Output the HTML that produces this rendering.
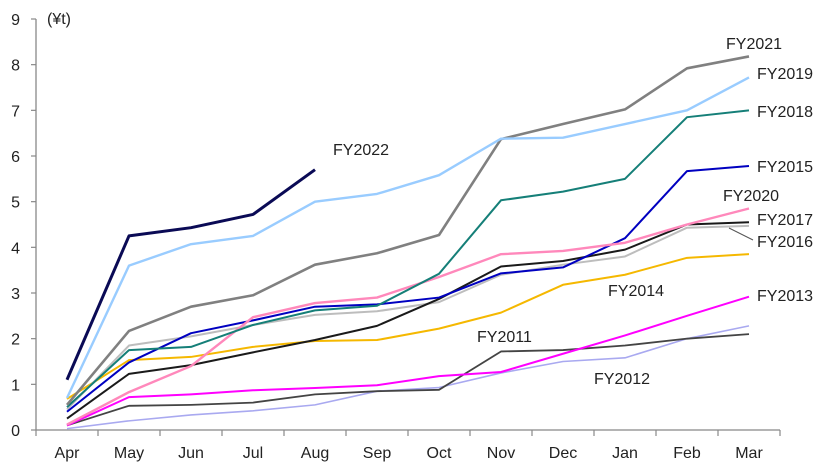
<!DOCTYPE html>
<html><head><meta charset="utf-8"><style>
html,body{margin:0;padding:0;background:#fff;}
svg{display:block;font-family:"Liberation Sans",Arial,sans-serif;}
</style></head><body>
<svg id="chart" width="835" height="466"></svg>
<script>
const months=["Apr","May","Jun","Jul","Aug","Sep","Oct","Nov","Dec","Jan","Feb","Mar"];
const yTicks=[0,1,2,3,4,5,6,7,8,9];
const fy2011=[0.1,0.53,0.55,0.6,0.78,0.85,0.88,1.72,1.75,1.85,2.0,2.1];
const fy2012=[0.03,0.2,0.33,0.42,0.55,0.85,0.93,1.25,1.5,1.58,2.0,2.28];
const fy2013=[0.1,0.72,0.78,0.87,0.92,0.98,1.18,1.27,1.67,2.07,2.5,2.92];
const fy2014=[0.68,1.53,1.6,1.82,1.95,1.97,2.22,2.57,3.18,3.4,3.77,3.85];
const fy2016=[0.45,1.85,2.05,2.3,2.52,2.6,2.8,3.4,3.62,3.8,4.43,4.47];
const fy2017=[0.25,1.23,1.42,1.7,1.97,2.28,2.87,3.58,3.7,3.95,4.5,4.55];
const fy2020=[0.12,0.83,1.4,2.47,2.78,2.9,3.35,3.85,3.92,4.1,4.5,4.85];
const fy2015=[0.4,1.48,2.12,2.4,2.7,2.75,2.9,3.43,3.56,4.2,5.67,5.78];
const fy2018=[0.5,1.75,1.82,2.3,2.62,2.72,3.42,5.03,5.22,5.5,6.85,7.0];
const fy2021=[0.55,2.17,2.7,2.95,3.62,3.87,4.27,6.37,6.7,7.02,7.92,8.18];
const fy2019=[0.7,3.6,4.07,4.25,5.0,5.17,5.58,6.38,6.4,6.7,7.0,7.72];
const fy2022=[1.1,4.25,4.43,4.72,5.7];

const svg=document.getElementById('chart');
const NS="http://www.w3.org/2000/svg";
const x0=36,step=62,yBase=430,yTop=19,yMax=9;
function xPos(i){return x0+step*(i+0.5);}
function yPos(v){return yBase-(yBase-yTop)*v/yMax;}
function mk(tag,attrs,parent){const e=document.createElementNS(NS,tag);for(const k in attrs)e.setAttribute(k,attrs[k]);(parent||svg).appendChild(e);return e;}

// axes
const axY=mk('line',{x1:x0,y1:yTop,x2:x0,y2:yBase,stroke:'#888','stroke-width':1.3});


const axX=mk('line',{x1:x0,y1:yBase,x2:x0+step*12,y2:yBase,stroke:'#888','stroke-width':1.3});


yTicks.forEach(t=>{
  mk('line',{x1:x0-5,y1:yPos(t),x2:x0,y2:yPos(t),stroke:'#888','stroke-width':1.2});
  const tx=mk('text',{x:20,y:yPos(t)+6,'text-anchor':'end','font-size':16,fill:'#222'});
  tx.textContent=t;
  
  
});
for(let i=0;i<=12;i++){mk('line',{x1:x0+step*i,y1:yBase,x2:x0+step*i,y2:yBase+6,stroke:'#888','stroke-width':1.2});}
months.forEach((m,i)=>{
  const tx=mk('text',{x:xPos(i),y:458,'text-anchor':'middle','font-size':16,fill:'#222'});
  tx.textContent=m;
  
  
});
const unit=mk('text',{x:47,y:24,'font-size':16,fill:'#222'});
unit.textContent='(¥t)';



const series=[
 ['fy2012',fy2012,'#a9a9f0',1.6],['fy2011',fy2011,'#444444',1.8],['fy2013',fy2013,'#ff00ff',2],
 ['fy2014',fy2014,'#f5b800',2],['fy2016',fy2016,'#bdbdbd',2],['fy2017',fy2017,'#1a1a1a',2],
 ['fy2015',fy2015,'#0000c0',2],['fy2020',fy2020,'#ff88bb',2.4],['fy2018',fy2018,'#157f78',2],
 ['fy2021',fy2021,'#808080',2.6],['fy2019',fy2019,'#99ccff',2.4],['fy2022',fy2022,'#0a0a55',3]
];
series.forEach(([n,d,c,w])=>{
  const p=mk('polyline',{points:d.map((v,i)=>xPos(i)+','+yPos(v)).join(' '),fill:'none',stroke:c,'stroke-width':w,'stroke-linejoin':'round'});
  
  
});
const labels=[['FY2021',726,49],['FY2019',757,79],['FY2018',757,117],['FY2015',757,172],['FY2020',723,201],['FY2017',757,225],['FY2016',757,247],['FY2014',608,296],['FY2013',757,301],['FY2011',477,342],['FY2012',594,384],['FY2022',333,155]];
labels.forEach(([t,x,y])=>{
  const tx=mk('text',{x:x,y:y,'font-size':16,fill:'#222'});
  tx.textContent=t;
  
  
});
const ld=mk('line',{x1:729,y1:228,x2:753,y2:240,stroke:'#555','stroke-width':1});


</script>
</body></html>
